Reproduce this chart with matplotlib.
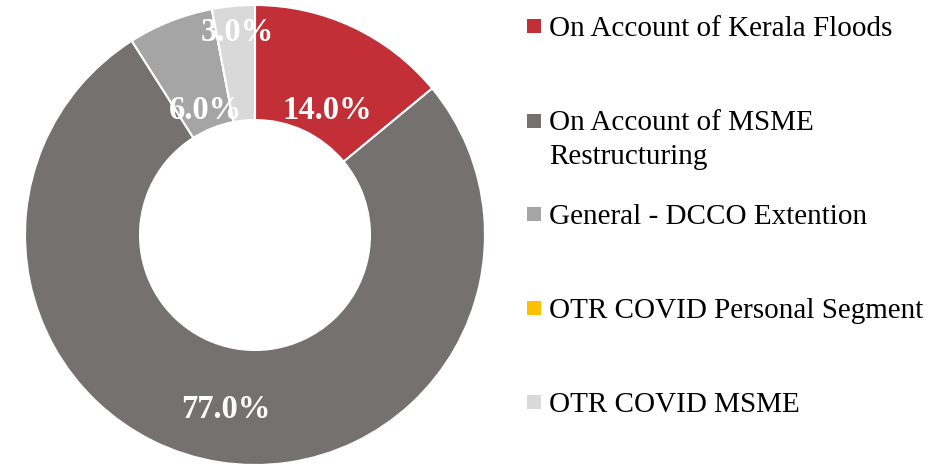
import numpy as np
import matplotlib
matplotlib.use("Agg")
import matplotlib.pyplot as plt
from matplotlib.patches import Rectangle

matplotlib.rcParams.update({
    "font.family": "Liberation Serif",
})

# data
categories = ["On Account of Kerala Floods",
              "On Account of MSME\nRestructuring",
              "General - DCCO Extention",
              "OTR COVID Personal Segment",
              "OTR COVID MSME"]
shares = [14.0, 77.0, 6.0, 0.0, 3.0]
colors = ["#C32F36", "#767171", "#A5A5A5", "#FFC000", "#D9D9D9"]

# label placement: radius (fraction of outer) and angle nudge in degrees
label_r = [0.637, 0.754, 0.595, 0.0, 0.899]
label_dang = [-4.3, -0.6, -0.2, 0.0, -0.5]

fig = plt.figure(figsize=(9.52, 4.66), dpi=100)
W, H = 952, 466
cx, cy, R = 255, 235, 230
ax = fig.add_axes([(cx - R) / W, (H - cy - R) / H, 2 * R / W, 2 * R / H])

wedges, _ = ax.pie(shares, colors=colors, startangle=90, counterclock=False,
                   radius=1.0, wedgeprops=dict(width=0.5, edgecolor="white", linewidth=1.5))
ax.set_xlim(-1, 1)
ax.set_ylim(-1, 1)
ax.set_aspect("equal")
ax.axis("off")

# labels on the ring (nudged down a little, va=center counts the descender)
for w, val, r, da in zip(wedges, shares, label_r, label_dang):
    if val <= 0:
        continue
    ang = np.deg2rad((w.theta1 + w.theta2) / 2 + da)
    ax.annotate(f"{val:.1f}%", (r * np.cos(ang), r * np.sin(ang)),
                xytext=(0, -2.2), textcoords="offset points",
                color="white", fontsize=23.5, fontweight="bold",
                ha="center", va="center")

# legend drawn by hand so the marker sits on the first line
row_y = [26, 121, 214, 308, 402]
sq = 14
line_gap = 33
for y, lab, col in zip(row_y, categories, colors):
    fig.patches.append(Rectangle((527 / W, (H - y - sq / 2) / H), sq / W, sq / H,
                                 transform=fig.transFigure, facecolor=col, edgecolor="none"))
    for i, line in enumerate(lab.split("\n")):
        fig.text(549 / W, (H - y - 9.5 - i * line_gap) / H, line, fontsize=21,
                 ha="left", va="baseline", color="#000000")

fig.savefig("out.png", dpi=100)
